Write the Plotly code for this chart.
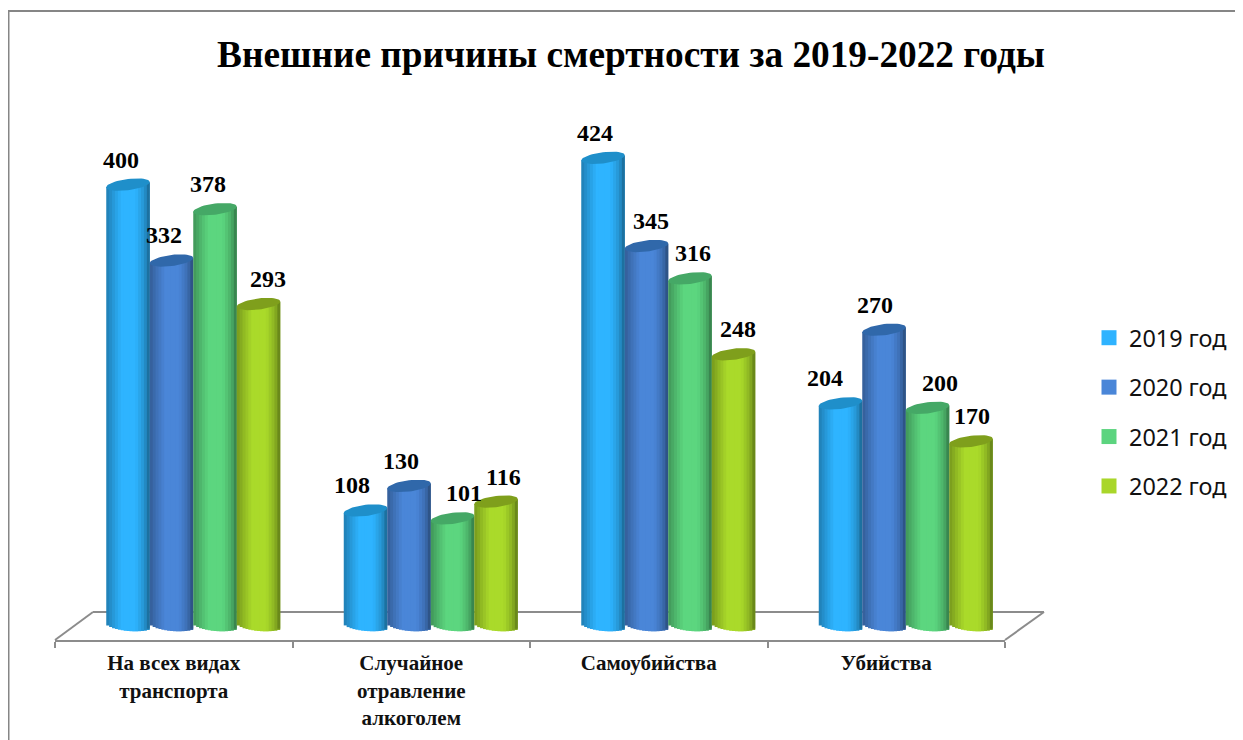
import numpy as np
import plotly.graph_objects as go

categories = ["На всех видах<br>транспорта", "Случайное<br>отравление<br>алкоголем", "Самоубийства", "Убийства"]
series_names = ["2019 год", "2020 год", "2021 год", "2022 год"]
values_2019 = [400, 108, 424, 204]
values_2020 = [332, 130, 345, 270]
values_2021 = [378, 101, 316, 200]
values_2022 = [293, 116, 248, 170]
all_values = [values_2019, values_2020, values_2021, values_2022]

side_colors = [(46, 180, 255), (74, 134, 216), (92, 214, 127), (170, 218, 42)]
cap_colors = ["#1f8fca", "#3068aa", "#45a866", "#7f9f1c"]
legend_colors = ["#2fb3ff", "#4a86d8", "#5cd47f", "#a9d62a"]
label_dx = [[-7, -8, -7, 9], [-14, -8, 11, 7], [-8, 4, 3, 4], [-16, -9, 12, 1]]

# the page body has an 8 px margin: figure is W x H placed at (8, 8); coordinates below are page pixels
PAGE_W, PAGE_H, BODY = 1243, 740, 8
W, H = PAGE_W - BODY, PAGE_H - BODY
L, R, T, B = 55, 1005, 100, 640
PX_X = (R - L) / 4
PX_Y = 1.116
yrange = [-(B - 631) / PX_Y, (631 - T) / PX_Y]
GROUP_SHIFT = 19.5 / PX_X
BAR_W = 43.5 / PX_X
N = 15
STRIP = BAR_W / N
us = (np.arange(N) + 0.5) / N * 2 - 1


def shade(u):
    return np.interp(u, [-1, -0.7, -0.3, 0.35, 0.75, 1], [0.7, 0.84, 1.0, 1.0, 0.82, 0.56])


def px(xp):
    return (xp - L) / (R - L)


def py(yp):
    return (B - yp) / (B - T)


fig = go.Figure()

base_c = 5.4
base_b = 6 / PX_Y
tilt = 2.6 / PX_Y
cap_b = 5.6 / PX_Y
for s, vals in enumerate(all_values):
    cols = []
    xs, ys, bases, widths = [], [], [], []
    for g, v in enumerate(vals):
        cx = g + GROUP_SHIFT + (s - 1.5) * BAR_W
        for k, u in enumerate(us):
            b0 = base_c - tilt * 0.7 * u - base_b * np.sqrt(1 - u * u)
            top = v + tilt * u
            # each strip reaches under the next one, which paints over it, so no seams show
            w = STRIP * (2 if k < N - 1 else 1)
            xs.append(cx + u * BAR_W / 2 - STRIP / 2 + w / 2)
            widths.append(w)
            bases.append(b0)
            ys.append(top - b0)
            f = shade(u)
            r, gg, b = side_colors[s]
            cols.append(f"rgb({int(r*f)},{int(gg*f)},{int(b*f)})")
    fig.add_trace(go.Bar(x=xs, y=ys, base=bases, width=widths,
                         marker=dict(color=cols, line=dict(width=0)),
                         showlegend=False, hoverinfo="skip", cliponaxis=False))

t = np.linspace(0, 2 * np.pi, 49)
for s, vals in enumerate(all_values):
    ex, ey = [], []
    for g, v in enumerate(vals):
        cx = g + GROUP_SHIFT + (s - 1.5) * BAR_W
        ex += list(cx + BAR_W / 2 * np.cos(t)) + [None]
        ey += list(v + tilt * np.cos(t) + cap_b * np.sin(t)) + [None]
    fig.add_trace(go.Scatter(x=ex, y=ey, mode="lines", fill="toself", fillcolor=cap_colors[s],
                             line=dict(width=0, color=cap_colors[s]), showlegend=False,
                             hoverinfo="skip", cliponaxis=False))

for s, name in enumerate(series_names):
    fig.add_trace(go.Scatter(x=[None], y=[None], mode="markers", name=name, legendgroup=name,
                             marker=dict(symbol="square", size=15, color=legend_colors[s])))

annotations = []
for s, vals in enumerate(all_values):
    for g, v in enumerate(vals):
        annotations.append(dict(x=g + GROUP_SHIFT + (s - 1.5) * BAR_W, y=v, text=f"<b>{v}</b>", showarrow=False,
                                xshift=label_dx[g][s], yshift=25, xanchor="center", yanchor="middle",
                                font=dict(family="Liberation Serif", size=24, color="#000000")))

line = dict(color="#8c8c8c", width=2)
frame = dict(color="#868686", width=2)
shapes = [
    dict(type="line", xref="paper", yref="paper", layer="below", x0=px(55), y0=py(640), x1=px(93), y1=py(612), line=line),
    dict(type="line", xref="paper", yref="paper", layer="below", x0=px(93), y0=py(612), x1=px(1044), y1=py(612), line=line),
    dict(type="line", xref="paper", yref="paper", layer="below", x0=px(1044), y0=py(612), x1=px(1005), y1=py(640), line=line),
    dict(type="line", xref="paper", yref="paper", layer="below", x0=px(8.5), y0=py(740), x1=px(8.5), y1=py(11), line=frame),
    dict(type="line", xref="paper", yref="paper", layer="below", x0=px(8), y0=py(11), x1=px(1243), y1=py(11), line=frame),
]

fig.update_layout(
    width=W, height=H, autosize=False,
    margin=dict(l=L - BODY, r=PAGE_W - R, t=T - BODY, b=PAGE_H - B, autoexpand=False),
    paper_bgcolor="#ffffff", plot_bgcolor="#ffffff",
    barmode="overlay",
    title=dict(text="<b>Внешние причины смертности за 2019-2022 годы</b>", x=(631 - BODY) / W, y=1 - (53.5 - BODY) / H,
               xanchor="center", yanchor="middle", xref="container", yref="container",
               font=dict(family="Liberation Serif", size=37.3, color="#000000")),
    xaxis=dict(range=[-0.5, 3.5], tickmode="array", tickvals=list(range(4)), ticktext=[f"<b>{c}</b>" for c in categories],
               ticks="", ticklen=0, showgrid=False, zeroline=False, showline=True, linecolor="#8c8c8c", linewidth=2,
               ticklabelstandoff=3,
               tickfont=dict(family="Liberation Serif", size=21, color="#111111"),
               minor=dict(tickmode="array", tickvals=[-0.5, 0.5, 1.5, 2.5, 3.5], ticks="outside", ticklen=6, tickwidth=2,
                          tickcolor="#8c8c8c", showgrid=False)),
    yaxis=dict(range=yrange, visible=False, showgrid=False, zeroline=False),
    legend=dict(x=px(1089), y=py(412), yanchor="middle", xanchor="left",
                font=dict(family="Noto Sans", size=23.4, color="#111111"),
                tracegroupgap=16, bgcolor="rgba(0,0,0,0)", itemclick=False, itemdoubleclick=False),
    annotations=annotations, shapes=shapes, showlegend=True,
)
fig.write_html("out.html")
